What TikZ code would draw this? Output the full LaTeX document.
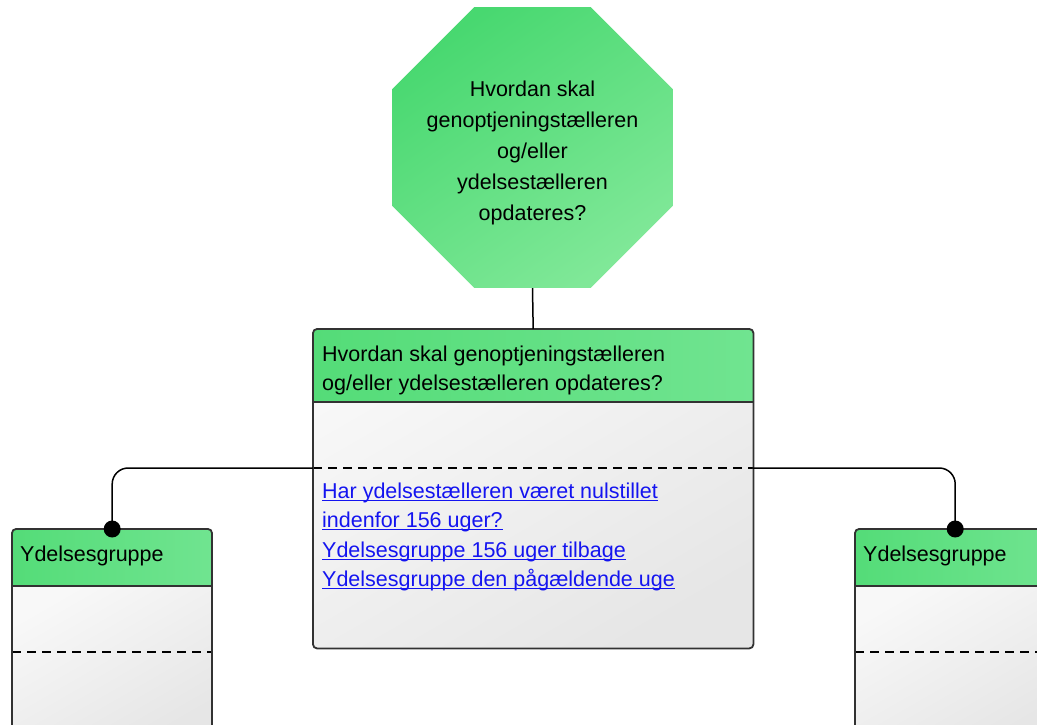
\documentclass[tikz,border=0pt]{standalone}
\usepackage{fontspec}
\setmainfont{Liberation Sans}
\usetikzlibrary{shapes.geometric}
\definecolor{gdark}{RGB}{72,216,112}
\definecolor{glight}{RGB}{128,232,152}
\definecolor{hdark}{RGB}{84,220,120}
\definecolor{hlight}{RGB}{112,228,144}
\definecolor{bodylight}{RGB}{248,248,248}
\definecolor{bodydark}{RGB}{230,230,230}
\definecolor{edge}{RGB}{50,50,50}
\definecolor{linkblue}{RGB}{20,20,240}
\tikzset{
  octa/.style={regular polygon, regular polygon sides=8, minimum size=304, inner sep=0,
    top color=gdark, bottom color=glight, shading angle=35, draw=none},
  octatxt/.style={inner sep=0, align=center, font=\fontsize{21.5}{30.8}\selectfont},
  boxframe/.style={draw=none, inner sep=0, anchor=north west},
  bodyshade/.style={top color=bodylight, bottom color=bodydark, shading angle=30},
  headshade/.style={left color=hdark, right color=hlight},
  outline/.style={draw=edge, line width=1.8, rounded corners=4},
  sep/.style={draw=black, line width=1.5, dash pattern=on 9 off 6},
  conn/.style={draw=black, line width=1.5, rounded corners=16},
  dot/.style={circle, fill=black, inner sep=0, minimum size=17},
  txt/.style={inner sep=0, anchor=base west, font=\fontsize{21.5}{29}\selectfont, align=left},
  linktxt/.style={txt, text=linkblue},
}
\newcommand{\ul}[1]{\setbox0\hbox{#1}\rlap{\rule[-3pt]{\wd0}{1.3pt}}\box0}
\begin{document}
\begin{tikzpicture}[x=1pt,y=-1pt]
\useasboundingbox (0,0) rectangle (1037,725);

% octagon
\node[octa] (q) at (532.5,147.5) {};
\node[octatxt] (qt) at (532.5,153) {Hvordan skal\\genoptjeningstælleren\\og/eller\\ydelsestælleren\\opdateres?};

% main box
\node[boxframe, minimum width=440, minimum height=319] (main) at (313,329) {};
\shade[bodyshade, rounded corners=4] (main.north west) rectangle (main.south east);
\shade[headshade] (313,402) [rounded corners=4] -- (313,329) -- (753,329) [sharp corners] -- (753,402) -- cycle;
\draw[edge, line width=1.8] (313,402) -- (753,402);
\draw[sep] (313,468) -- (753,468);
\draw[outline] (main.north west) rectangle (main.south east);
\node[txt] (mh) at (322,390) {Hvordan skal genoptjeningstælleren\\og/eller ydelsestælleren opdateres?};
\node[linktxt] (l1) at (322,498) {\ul{Har ydelsestælleren været nulstillet}};
\node[linktxt] (l2) at (322,527) {\ul{indenfor 156 uger?}};
\node[linktxt] (l3) at (322,557) {\ul{Ydelsesgruppe 156 uger tilbage}};
\node[linktxt] (l4) at (322,586) {\ul{Ydelsesgruppe den pågældende uge}};

% left box
\node[boxframe, minimum width=200, minimum height=220] (lb) at (12,529) {};
\shade[bodyshade] (12,586) -- (12,740) -- (212,740) -- (212,586) -- cycle;
\shade[headshade] (12,586) [rounded corners=4] -- (12,529) -- (212,529) [sharp corners] -- (212,586) -- cycle;
\draw[edge, line width=1.8] (12,586) -- (212,586);
\draw[sep] (12,652) -- (212,652);
\draw[outline] (12,740) -- (12,529) -- (212,529) -- (212,740);
\node[txt] (lbt) at (20,561) {Ydelsesgruppe};

% right box
\node[boxframe, minimum width=200, minimum height=220] (rb) at (855,529) {};
\shade[bodyshade] (855,586) -- (855,740) -- (1055,740) -- (1055,586) -- cycle;
\shade[headshade] (855,586) [rounded corners=4] -- (855,529) -- (1055,529) [sharp corners] -- (1055,586) -- cycle;
\draw[edge, line width=1.8] (855,586) -- (1055,586);
\draw[sep] (855,652) -- (1055,652);
\draw[outline] (855,740) -- (855,529) -- (1055,529) -- (1055,740);
\node[txt] (rbt) at (863,561) {Ydelsesgruppe};

% connectors
\coordinate (mL) at (313,468);
\coordinate (mR) at (753,468);
\draw[black, line width=1.5] (q.south) -- (main.north);
\draw[conn] (mL) -| (lb.north);
\draw[conn] (mR) -| (rb.north);
\node[dot] (dl) at (lb.north) {};
\node[dot] (dr) at (rb.north) {};
\end{tikzpicture}
\end{document}
